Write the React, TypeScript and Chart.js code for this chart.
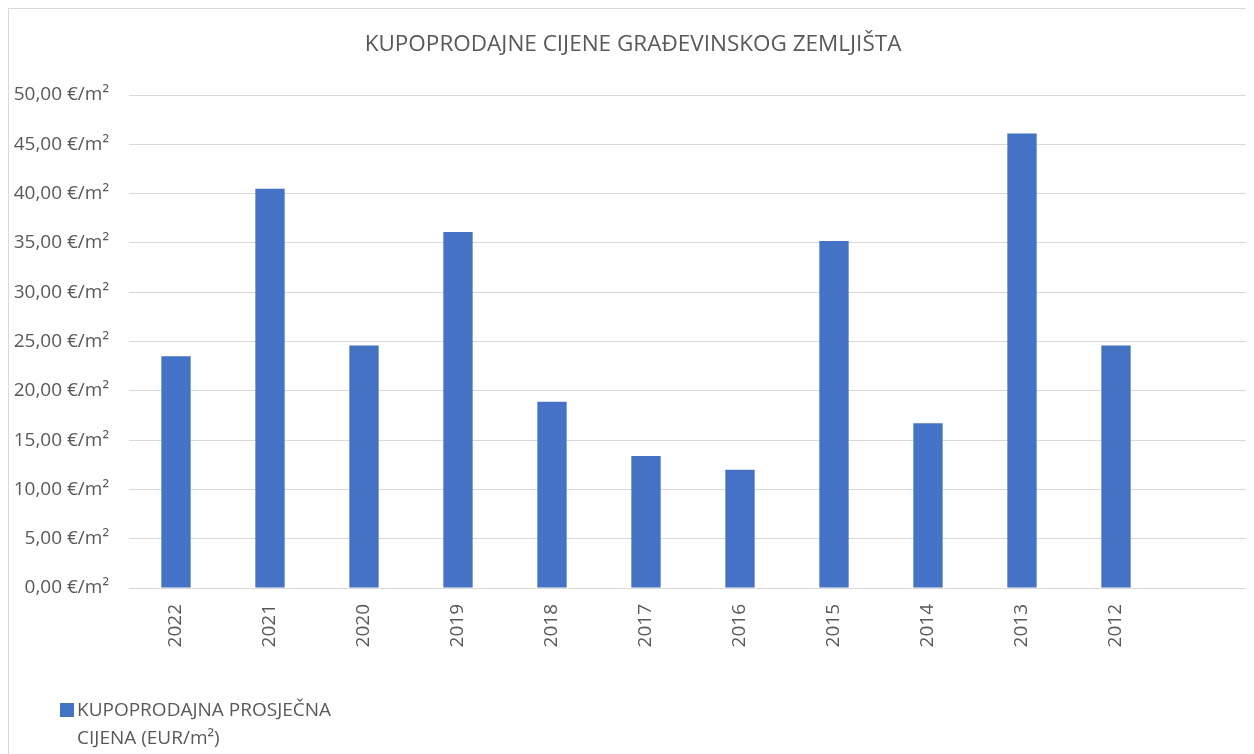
import React, { useEffect, useRef } from "react";
import { Chart, registerables } from "chart.js";

Chart.register(...registerables);

const categories = ["2022", "2021", "2020", "2019", "2018", "2017", "2016", "2015", "2014", "2013", "2012", ""];
const prices = [23.5, 40.5, 24.6, 36.1, 18.9, 13.4, 12.0, 35.2, 16.7, 46.1, 24.6, null];
const seriesName = ["KUPOPRODAJNA PROSJEČNA", "CIJENA (EUR/m²)"];
const chartTitle = "KUPOPRODAJNE CIJENE GRAĐEVINSKOG ZEMLJIŠTA";
const yMin = 0;
const yMax = 50;
const yStep = 5;

const FONT = "'Open Sans', 'Noto Sans', sans-serif";
const TEXT = "#595959";
const BAR = "#4472C4";
const GRID = "#d9d9d9";

const legendPlugin = {
  id: "excelLegend",
  afterDraw(chart: any) {
    const ctx = chart.ctx;
    const area = chart.chartArea;
    const boxX = 51;
    const boxY = area.bottom + 115;
    ctx.save();
    ctx.fillStyle = BAR;
    ctx.fillRect(boxX, boxY, 14, 14);
    ctx.fillStyle = TEXT;
    ctx.font = `19px ${FONT}`;
    ctx.textBaseline = "middle";
    ctx.textAlign = "left";
    seriesName.forEach((line, i) => {
      ctx.fillText(line, boxX + 17, boxY + 7.5 + i * 28);
    });
    ctx.restore();
  },
};

export default function App() {
  const ref = useRef<HTMLCanvasElement>(null);
  useEffect(() => {
    if (!ref.current) return;
    const chart = new Chart(ref.current, {
      type: "bar",
      data: {
        labels: categories,
        datasets: [
          {
            label: seriesName.join(" "),
            data: prices,
            backgroundColor: BAR,
            borderWidth: 0,
            barPercentage: 0.312,
            categoryPercentage: 1,
          },
        ],
      },
      options: {
        responsive: false,
        animation: false,
        devicePixelRatio: 1,
        layout: { padding: { left: 0, right: 2, top: 0, bottom: 121 } },
        plugins: {
          legend: { display: false },
          tooltip: { enabled: false },
          title: {
            display: true,
            text: chartTitle,
            color: TEXT,
            font: { family: FONT, size: 22.5, weight: "normal", lineHeight: 1.2 },
            padding: { top: 22, bottom: 37 },
          },
        },
        scales: {
          x: {
            grid: { display: false, drawTicks: false },
            border: { display: false },
            ticks: {
              color: TEXT,
              font: { family: FONT, size: 19 },
              minRotation: 90,
              maxRotation: 90,
              padding: 16,
              autoSkip: false,
            },
            afterFit(scale: any) {
              scale.height = 70;
            },
          },
          y: {
            min: yMin,
            max: yMax,
            grid: { color: GRID, lineWidth: 1, drawTicks: false },
            border: { display: false },
            ticks: {
              stepSize: yStep,
              color: TEXT,
              font: { family: FONT, size: 19 },
              padding: 20,
              callback: (v: any) => Number(v).toFixed(2).replace(".", ",") + " €/m²",
            },
            afterFit(scale: any) {
              scale.width = 120;
            },
          },
        },
      },
      plugins: [legendPlugin],
    });
    return () => chart.destroy();
  }, []);

  return (
    <div
      style={{
        width: 1246,
        height: 746,
        overflow: "hidden",
        borderLeft: `1px solid ${GRID}`,
        borderTop: `1px solid ${GRID}`,
        boxSizing: "border-box",
        background: "#fff",
      }}
    >
      <canvas ref={ref} width={1250} height={770} style={{ display: "block" }} />
    </div>
  );
}
